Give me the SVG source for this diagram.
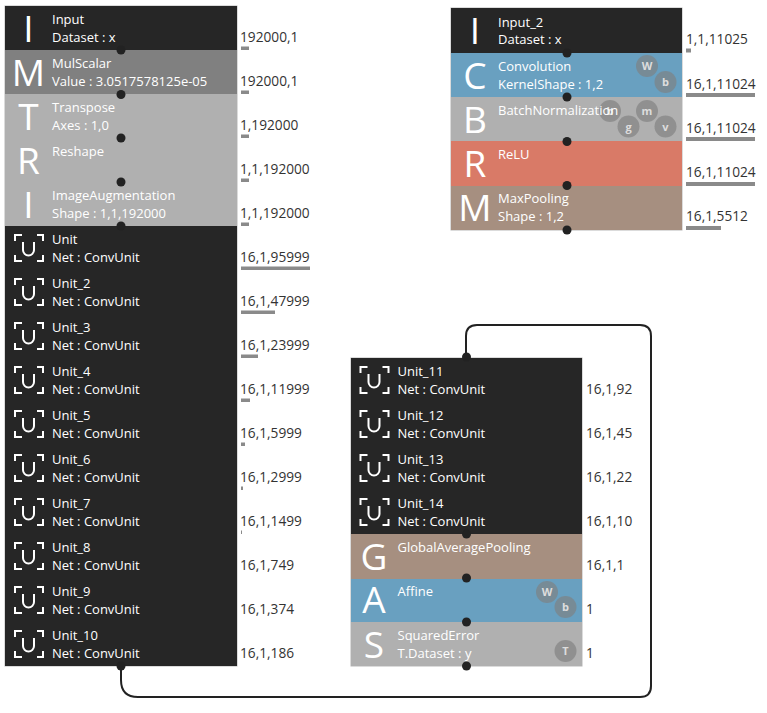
<svg xmlns="http://www.w3.org/2000/svg" width="767" height="713" viewBox="0 0 767 713">
<style>
text{font-family:"Open Sans","Noto Sans","Liberation Sans",sans-serif;font-size:13px}
.t{fill:#fff}
.l{fill:#fff;font-size:37px;text-anchor:middle}
.v{fill:#333;font-size:13.700px}
.bar{fill:#8a8a8a}
.dot{fill:#222}
.ic{fill:none;stroke:#fff;stroke-width:2}
.c{fill:#808080;fill-opacity:.65}
.cl{fill:#ddd;font-size:11px;font-weight:700;text-anchor:middle}
.k{fill:#262626}.g{fill:#b0b0b0}.m{fill:#808080}.b{fill:#69a0c0}.r{fill:#d97a67}.o{fill:#a68f80}
.w{fill:none;stroke:#222;stroke-width:2}
.e{fill:none;stroke:#b8b8b8;stroke-width:1}
</style>
<defs>
<g id="u"><path class="ic" d="M15 15V9H22M37 9H43V15M15 29V35H22M37 35H43V29"/><path class="ic" d="M23 16V24A5.500 5.500 0 0 0 34 24V16"/></g>
</defs>
<rect class="e" x="5" y="6" width="232" height="660"/>
<rect class="e" x="451" y="8" width="231" height="222"/>
<rect class="e" x="351" y="358" width="231" height="308"/>
<g id="connectors">
<path class="w" d="M121 666V680Q121 697 138 697H640Q651 697 651 686V336Q651 325 640 325H477Q466 325 466 336V358"/>
</g>
<g id="n1"><rect class="k" x="5" y="6" width="232" height="44"/><text class="l" x="28.500" y="42">I</text><text class="t" x="52" y="24">Input</text><text class="t" x="52" y="42">Dataset : x</text></g>
<g id="n2"><rect class="m" x="5" y="50" width="232" height="44"/><text class="l" x="28.500" y="86">M</text><text class="t" x="52" y="68">MulScalar</text><text class="t" x="52" y="86">Value : 3.0517578125e-05</text></g>
<g id="n3"><rect class="g" x="5" y="94" width="232" height="44"/><text class="l" x="28.500" y="130">T</text><text class="t" x="52" y="112">Transpose</text><text class="t" x="52" y="130">Axes : 1,0</text></g>
<g id="n4"><rect class="g" x="5" y="138" width="232" height="44"/><text class="l" x="28.500" y="174">R</text><text class="t" x="52" y="156">Reshape</text></g>
<g id="n5"><rect class="g" x="5" y="182" width="232" height="44"/><text class="l" x="28.500" y="218">I</text><text class="t" x="52" y="200">ImageAugmentation</text><text class="t" x="52" y="218">Shape : 1,1,192000</text></g>
<g id="n6"><rect class="k" x="5" y="226" width="232" height="44"/><use href="#u" x="0" y="226"/><text class="t" x="52" y="244">Unit</text><text class="t" x="52" y="262">Net : ConvUnit</text></g>
<g id="n7"><rect class="k" x="5" y="270" width="232" height="44"/><use href="#u" x="0" y="270"/><text class="t" x="52" y="288">Unit_2</text><text class="t" x="52" y="306">Net : ConvUnit</text></g>
<g id="n8"><rect class="k" x="5" y="314" width="232" height="44"/><use href="#u" x="0" y="314"/><text class="t" x="52" y="332">Unit_3</text><text class="t" x="52" y="350">Net : ConvUnit</text></g>
<g id="n9"><rect class="k" x="5" y="358" width="232" height="44"/><use href="#u" x="0" y="358"/><text class="t" x="52" y="376">Unit_4</text><text class="t" x="52" y="394">Net : ConvUnit</text></g>
<g id="n10"><rect class="k" x="5" y="402" width="232" height="44"/><use href="#u" x="0" y="402"/><text class="t" x="52" y="420">Unit_5</text><text class="t" x="52" y="438">Net : ConvUnit</text></g>
<g id="n11"><rect class="k" x="5" y="446" width="232" height="44"/><use href="#u" x="0" y="446"/><text class="t" x="52" y="464">Unit_6</text><text class="t" x="52" y="482">Net : ConvUnit</text></g>
<g id="n12"><rect class="k" x="5" y="490" width="232" height="44"/><use href="#u" x="0" y="490"/><text class="t" x="52" y="508">Unit_7</text><text class="t" x="52" y="526">Net : ConvUnit</text></g>
<g id="n13"><rect class="k" x="5" y="534" width="232" height="44"/><use href="#u" x="0" y="534"/><text class="t" x="52" y="552">Unit_8</text><text class="t" x="52" y="570">Net : ConvUnit</text></g>
<g id="n14"><rect class="k" x="5" y="578" width="232" height="44"/><use href="#u" x="0" y="578"/><text class="t" x="52" y="596">Unit_9</text><text class="t" x="52" y="614">Net : ConvUnit</text></g>
<g id="n15"><rect class="k" x="5" y="622" width="232" height="44"/><use href="#u" x="0" y="622"/><text class="t" x="52" y="640">Unit_10</text><text class="t" x="52" y="658">Net : ConvUnit</text></g>

<g id="n16"><rect class="k" x="451" y="8" width="231" height="45"/><text class="l" x="475" y="44">I</text><text class="t" x="498" y="27">Input_2</text><text class="t" x="498" y="44">Dataset : x</text></g>
<g id="n17"><rect class="b" x="451" y="53" width="231" height="44"/><circle class="c" cx="647" cy="66" r="11"/><text class="cl" x="647" y="70">W</text><circle class="c" cx="665.500" cy="82" r="11"/><text class="cl" x="665.500" y="86">b</text><text class="l" x="475" y="89">C</text><text class="t" x="498" y="71">Convolution</text><text class="t" x="498" y="89">KernelShape : 1,2</text></g>
<g id="n18"><rect class="g" x="451" y="97" width="231" height="44"/><circle class="c" cx="610" cy="111" r="11"/><text class="cl" x="610" y="115">b</text><circle class="c" cx="647" cy="111" r="11"/><text class="cl" x="647" y="115">m</text><circle class="c" cx="628.500" cy="126.500" r="11"/><text class="cl" x="628.500" y="130.500">g</text><circle class="c" cx="665.500" cy="126.500" r="11"/><text class="cl" x="665.500" y="130.500">v</text><text class="l" x="475" y="133">B</text><text class="t" x="498" y="115">BatchNormalization</text></g>
<g id="n19"><rect class="r" x="451" y="141" width="231" height="45"/><text class="l" x="475" y="177">R</text><text class="t" x="498" y="159">ReLU</text></g>
<g id="n20"><rect class="o" x="451" y="186" width="231" height="44"/><text class="l" x="475" y="221">M</text><text class="t" x="498" y="203">MaxPooling</text><text class="t" x="498" y="221">Shape : 1,2</text></g>

<g id="n21"><rect class="k" x="351" y="358" width="231" height="44"/><use href="#u" x="345.500" y="358"/><text class="t" x="397.500" y="376">Unit_11</text><text class="t" x="397.500" y="394">Net : ConvUnit</text></g>
<g id="n22"><rect class="k" x="351" y="402" width="231" height="44"/><use href="#u" x="345.500" y="402"/><text class="t" x="397.500" y="420">Unit_12</text><text class="t" x="397.500" y="438">Net : ConvUnit</text></g>
<g id="n23"><rect class="k" x="351" y="446" width="231" height="44"/><use href="#u" x="345.500" y="446"/><text class="t" x="397.500" y="464">Unit_13</text><text class="t" x="397.500" y="482">Net : ConvUnit</text></g>
<g id="n24"><rect class="k" x="351" y="490" width="231" height="44"/><use href="#u" x="345.500" y="490"/><text class="t" x="397.500" y="508">Unit_14</text><text class="t" x="397.500" y="526">Net : ConvUnit</text></g>
<g id="n25"><rect class="o" x="351" y="534" width="231" height="45"/><text class="l" x="374" y="570">G</text><text class="t" x="397.500" y="552">GlobalAveragePooling</text></g>
<g id="n26"><rect class="b" x="351" y="579" width="231" height="43"/><circle class="c" cx="547" cy="592" r="11"/><text class="cl" x="547" y="596">W</text><circle class="c" cx="565.500" cy="607" r="11"/><text class="cl" x="565.500" y="611">b</text><text class="l" x="374" y="613">A</text><text class="t" x="397.500" y="596">Affine</text></g>
<g id="n27"><rect class="g" x="351" y="622" width="231" height="44"/><circle class="c" cx="565.500" cy="651" r="11"/><text class="cl" x="565.500" y="655">T</text><text class="l" x="374" y="658">S</text><text class="t" x="397.500" y="640">SquaredError</text><text class="t" x="397.500" y="658">T.Dataset : y</text></g>

<g id="dots">
<circle class="dot" cx="121" cy="50" r="4.500"/><circle class="dot" cx="121" cy="94.500" r="4.500"/><circle class="dot" cx="121" cy="138" r="4.500"/><circle class="dot" cx="121" cy="182" r="4.500"/><circle class="dot" cx="121" cy="226" r="4.500"/><circle class="dot" cx="121" cy="666" r="4.500"/>
<circle class="dot" cx="567" cy="53" r="4.500"/><circle class="dot" cx="567" cy="97" r="4.500"/><circle class="dot" cx="567" cy="141.500" r="4.500"/><circle class="dot" cx="567" cy="185.500" r="4.500"/><circle class="dot" cx="567" cy="230" r="4.500"/>
<circle class="dot" cx="466.500" cy="357" r="4.500"/><circle class="dot" cx="466.500" cy="534" r="4.500"/><circle class="dot" cx="466.500" cy="578" r="4.500"/><circle class="dot" cx="466.500" cy="622" r="4.500"/><circle class="dot" cx="466.500" cy="666" r="4.500"/>
</g>
<g id="sizes">
<text class="v" x="240" y="42">192000,1</text><rect class="bar" x="241" y="46.500" width="8" height="3.500"/>
<text class="v" x="240" y="86">192000,1</text><rect class="bar" x="241" y="90.500" width="8" height="3.500"/>
<text class="v" x="240" y="130">1,192000</text><rect class="bar" x="241" y="134.500" width="8" height="3.500"/>
<text class="v" x="240" y="174">1,1,192000</text><rect class="bar" x="241" y="178.500" width="8" height="3.500"/>
<text class="v" x="240" y="218">1,1,192000</text><rect class="bar" x="241" y="222.500" width="8" height="3.500"/>
<text class="v" x="240" y="262">16,1,95999</text><rect class="bar" x="241" y="266.500" width="69" height="3.500"/>
<text class="v" x="240" y="306">16,1,47999</text><rect class="bar" x="241" y="310.500" width="34" height="3.500"/>
<text class="v" x="240" y="350">16,1,23999</text><rect class="bar" x="241" y="354.500" width="17" height="3.500"/>
<text class="v" x="240" y="394">16,1,11999</text><rect class="bar" x="241" y="398.500" width="9" height="3.500"/>
<text class="v" x="240" y="438">16,1,5999</text><rect class="bar" x="241" y="442.500" width="4" height="3.500"/>
<text class="v" x="240" y="482">16,1,2999</text><rect class="bar" x="241" y="486.500" width="2" height="3.500"/>
<text class="v" x="240" y="526">16,1,1499</text><rect class="bar" x="241" y="530.500" width="1" height="3.500"/>
<text class="v" x="240" y="570">16,1,749</text>
<text class="v" x="240" y="614">16,1,374</text>
<text class="v" x="240" y="658">16,1,186</text>
<text class="v" x="686" y="44">1,1,11025</text><rect class="bar" x="686" y="48.500" width="5" height="4"/>
<text class="v" x="686" y="89">16,1,11024</text><rect class="bar" x="686" y="93" width="69" height="4"/>
<text class="v" x="686" y="133">16,1,11024</text><rect class="bar" x="686" y="137" width="69" height="4"/>
<text class="v" x="686" y="177">16,1,11024</text><rect class="bar" x="686" y="182" width="69" height="4"/>
<text class="v" x="686" y="221">16,1,5512</text><rect class="bar" x="686" y="226" width="35" height="4"/>
<text class="v" x="586" y="394">16,1,92</text>
<text class="v" x="586" y="438">16,1,45</text>
<text class="v" x="586" y="482">16,1,22</text>
<text class="v" x="586" y="526">16,1,10</text>
<text class="v" x="586" y="570">16,1,1</text>
<text class="v" x="586" y="614">1</text>
<text class="v" x="586" y="658">1</text>
</g>
</svg>
